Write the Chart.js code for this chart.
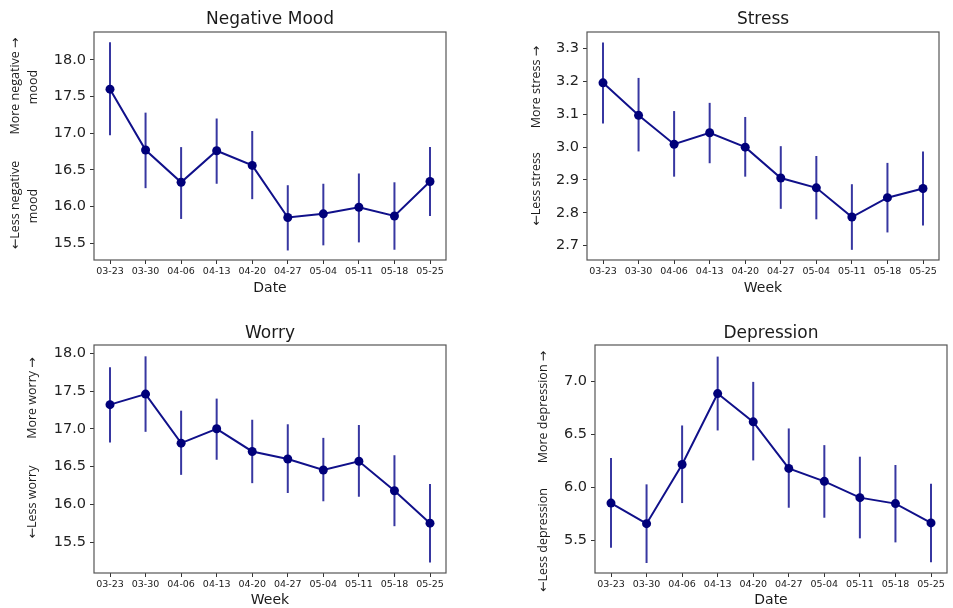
<!DOCTYPE html>
<html>
<head>
<meta charset="utf-8">
<script src="https://cdn.jsdelivr.net/npm/chart.js@4.4.1/dist/chart.umd.min.js"></script>
<style>
  body { margin: 0; background: #fff; }
  #fig { position: relative; width: 953px; height: 608px; }
  .panel { position: absolute; }
</style>
</head>
<body>
<div id="fig">
  <div class="panel" style="left:0;top:0;width:476px;height:305px"><canvas id="c1"></canvas></div>
  <div class="panel" style="left:476px;top:0;width:477px;height:305px"><canvas id="c2"></canvas></div>
  <div class="panel" style="left:0;top:305px;width:476px;height:303px"><canvas id="c3"></canvas></div>
  <div class="panel" style="left:476px;top:305px;width:477px;height:303px"><canvas id="c4"></canvas></div>
</div>
<script>
// weeks (x tick labels)
const semanas = ['03-23', '03-30', '04-06', '04-13', '04-20', '04-27', '05-04', '05-11', '05-18', '05-25'];

// Negative Mood
const moodValores = [17.60, 16.77, 16.33, 16.76, 16.56, 15.85, 15.90, 15.99, 15.87, 16.34];
const moodAlto    = [18.24, 17.28, 16.81, 17.20, 17.03, 16.29, 16.31, 16.45, 16.33, 16.81];
const moodBajo    = [16.97, 16.25, 15.83, 16.31, 16.10, 15.40, 15.47, 15.51, 15.41, 15.87];
const moodTicks   = [15.5, 16.0, 16.5, 17.0, 17.5, 18.0];

// Stress
const stressValores = [3.196, 3.097, 3.009, 3.044, 3.000, 2.906, 2.876, 2.787, 2.846, 2.874];
const stressAlto    = [3.319, 3.211, 3.110, 3.135, 3.092, 3.003, 2.973, 2.887, 2.952, 2.987];
const stressBajo    = [3.072, 2.987, 2.910, 2.951, 2.910, 2.812, 2.780, 2.687, 2.740, 2.761];
const stressTicks   = [2.7, 2.8, 2.9, 3.0, 3.1, 3.2, 3.3];

// Worry
const worryValores = [17.32, 17.46, 16.81, 17.00, 16.70, 16.60, 16.455, 16.57, 16.18, 15.75];
const worryAlto    = [17.815, 17.96, 17.24, 17.40, 17.12, 17.06, 16.88, 17.05, 16.65, 16.27];
const worryBajo    = [16.82, 16.96, 16.39, 16.59, 16.28, 16.15, 16.04, 16.10, 15.71, 15.23];
const worryTicks   = [15.5, 16.0, 16.5, 17.0, 17.5, 18.0];

// Depression
const deprValores = [5.854, 5.660, 6.217, 6.884, 6.618, 6.180, 6.058, 5.905, 5.849, 5.667];
const deprAlto    = [6.277, 6.030, 6.584, 7.232, 6.994, 6.556, 6.399, 6.290, 6.212, 6.036];
const deprBajo    = [5.434, 5.290, 5.854, 6.537, 6.255, 5.810, 5.716, 5.522, 5.484, 5.296];
const deprTicks   = [5.5, 6.0, 6.5, 7.0];

const azul = '#10108a';
const texto = '#1a1a1a';

// draws the error bars, the frame and all the labels around a panel
const extras = {
  id: 'extras',
  beforeDatasetsDraw(chart, args, op) {
    const ctx = chart.ctx;
    const x = chart.scales.x, y = chart.scales.y;
    ctx.save();
    ctx.strokeStyle = 'rgba(20,20,145,0.85)';
    ctx.lineWidth = 2;
    op.alto.forEach((h, i) => {
      ctx.beginPath();
      ctx.moveTo(x.getPixelForValue(i), y.getPixelForValue(h));
      ctx.lineTo(x.getPixelForValue(i), y.getPixelForValue(op.bajo[i]));
      ctx.stroke();
    });
    ctx.restore();
  },
  afterDraw(chart, args, op) {
    const ctx = chart.ctx;
    const a = chart.chartArea;
    ctx.save();
    ctx.strokeStyle = '#555';
    ctx.lineWidth = 1.2;
    ctx.strokeRect(a.left, a.top, a.right - a.left, a.bottom - a.top);
    ctx.fillStyle = texto;
    ctx.textAlign = 'center';
    ctx.textBaseline = 'middle';
    const cx = (a.left + a.right) / 2;
    ctx.font = '17px "DejaVu Sans"';
    ctx.fillText(op.titulo, cx, op.tituloY);
    ctx.font = '14px "DejaVu Sans"';
    ctx.fillText(op.ejeX, cx, op.ejeXY);
    ctx.font = '12.5px "Open Sans", "DejaVu Sans"';
    op.lados.forEach(l => {
      ctx.save();
      ctx.translate(l.x, l.y);
      ctx.rotate(-Math.PI / 2);
      ctx.fillText(l.t, 0, 0);
      ctx.restore();
    });
    ctx.restore();
  }
};

function panel(id, valores, alto, bajo, ticks, ymin, ymax, caja, extra) {
  const ctx = document.getElementById(id);
  return new Chart(ctx, {
    type: 'line',
    data: {
      datasets: [{
        data: valores.map((v, i) => ({ x: i, y: v })),
        borderColor: azul,
        backgroundColor: '#00007a',
        borderWidth: 2,
        pointRadius: 4.5,
        pointHoverRadius: 4.5,
        pointBorderWidth: 0,
        tension: 0
      }]
    },
    options: {
      responsive: true,
      maintainAspectRatio: false,
      animation: false,
      events: [],
      layout: { padding: { top: caja.t, right: caja.r, left: 0, bottom: 0 } },
      plugins: {
        legend: { display: false },
        tooltip: { enabled: false },
        extras: Object.assign({ alto: alto, bajo: bajo }, extra)
      },
      scales: {
        x: {
          type: 'linear',
          min: -0.45,
          max: 9.45,
          afterBuildTicks: s => { s.ticks = semanas.map((_, i) => ({ value: i })); },
          afterFit: s => { s.height = caja.b; },
          ticks: {
            autoSkip: false,
            maxRotation: 0,
            padding: 2,
            color: texto,
            font: { family: 'DejaVu Sans', size: 9.5 },
            callback: v => semanas[v]
          },
          grid: { drawOnChartArea: false, drawTicks: true, tickLength: 4, color: '#333' },
          border: { display: false }
        },
        y: {
          min: ymin,
          max: ymax,
          afterBuildTicks: s => { s.ticks = ticks.map(v => ({ value: v })); },
          afterFit: s => { s.width = caja.l; },
          ticks: {
            padding: 4,
            color: '#222',
            font: { family: 'DejaVu Sans', size: 14.5 },
            callback: v => v.toFixed(1)
          },
          grid: { drawOnChartArea: false, drawTicks: true, tickLength: 4, color: '#333' },
          border: { display: false }
        }
      }
    },
    plugins: [extras]
  });
}

panel('c1', moodValores, moodAlto, moodBajo, moodTicks, 15.27, 18.38,
  { l: 94, t: 32, r: 30, b: 45 },
  { titulo: 'Negative Mood', tituloY: 20, ejeX: 'Date', ejeXY: 288,
    lados: [{ t: 'More negative \u2192', x: 15, y: 86 }, { t: 'mood', x: 33, y: 87 },
            { t: '\u2190Less negative', x: 15, y: 205 }, { t: 'mood', x: 33, y: 206 }] });

panel('c2', stressValores, stressAlto, stressBajo, stressTicks, 2.656, 3.351,
  { l: 111, t: 32, r: 14, b: 45 },
  { titulo: 'Stress', tituloY: 20, ejeX: 'Week', ejeXY: 288,
    lados: [{ t: 'More stress \u2192', x: 60, y: 87 }, { t: '\u2190Less stress', x: 60, y: 189 }] });

panel('c3', worryValores, worryAlto, worryBajo, worryTicks, 15.09, 18.11,
  { l: 94, t: 40, r: 30, b: 35 },
  { titulo: 'Worry', tituloY: 29, ejeX: 'Week', ejeXY: 295,
    lados: [{ t: 'More worry \u2192', x: 32, y: 93 }, { t: '\u2190Less worry', x: 32, y: 197 }] });

panel('c4', deprValores, deprAlto, deprBajo, deprTicks, 5.196, 7.341,
  { l: 119, t: 40, r: 6, b: 35 },
  { titulo: 'Depression', tituloY: 29, ejeX: 'Date', ejeXY: 295,
    lados: [{ t: 'More depression \u2192', x: 67, y: 102 }, { t: '\u2190Less depression', x: 67, y: 235 }] });
</script>
</body>
</html>
